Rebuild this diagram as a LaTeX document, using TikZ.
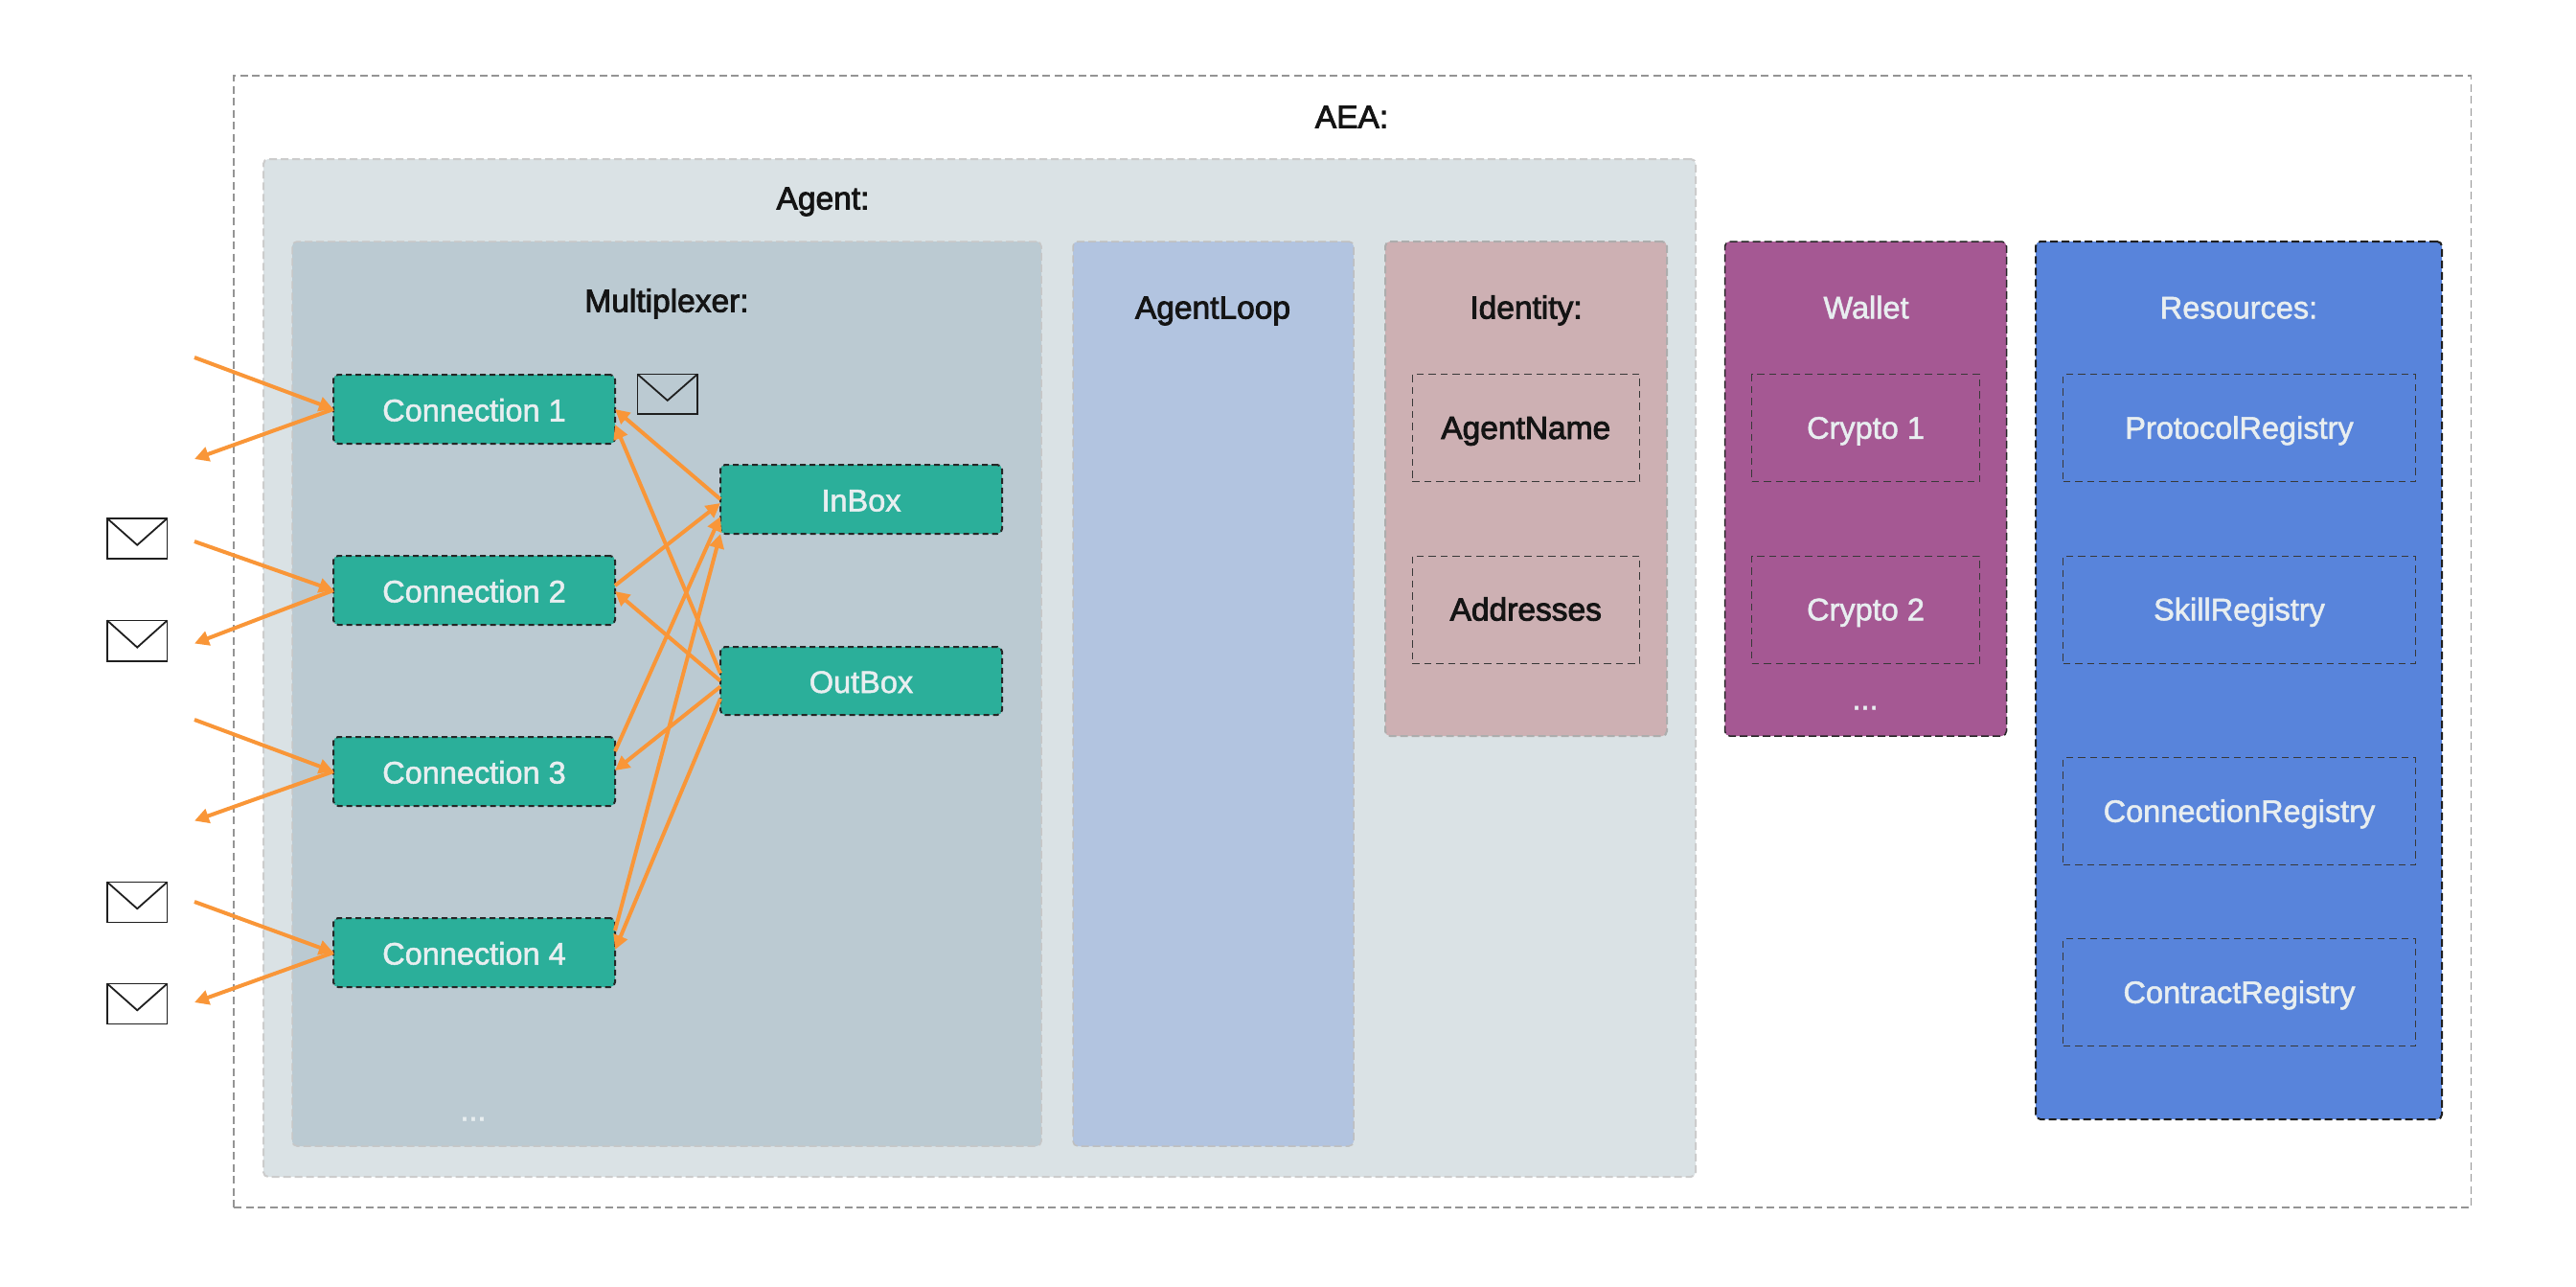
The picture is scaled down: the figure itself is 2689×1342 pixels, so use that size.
\documentclass[tikz,border=0pt]{standalone}
\usepackage{fontspec}
\setmainfont{Liberation Sans}
\newfontfamily\semibf[FakeBold=2.6]{Liberation Sans}
\newfontfamily\medf[FakeBold=1.6]{Liberation Sans}
\usetikzlibrary{arrows.meta}
\definecolor{orangeL}{HTML}{F99638}
\definecolor{tealF}{HTML}{2BAF9A}
\definecolor{agentF}{HTML}{DAE2E5}
\definecolor{muxF}{HTML}{BBCAD2}
\definecolor{loopF}{HTML}{B2C4E0}
\definecolor{idF}{HTML}{CDB0B3}
\definecolor{walF}{HTML}{A55893}
\definecolor{resF}{HTML}{5884DB}
\definecolor{lightT}{HTML}{E8EEF0}
\definecolor{darkT}{HTML}{141414}
\tikzset{
 x=1pt,y=-1pt,
 boxbase/.style={rectangle,inner sep=0pt,outer sep=0pt,rounded corners=5pt},
 lighttxt/.style={text=lightT,font=\medf\fontsize{32.5}{36}\selectfont,text height=22.5pt,text depth=0pt},
 darktxt/.style={text=darkT,font=\semibf\fontsize{33.5}{36}\selectfont,text height=23pt,text depth=0pt},
 labeltxt/.style={inner sep=0pt,outer sep=0pt},
 outerbox/.style={boxbase,rounded corners=0pt,draw=black!42,line width=1.3pt,dash pattern=on 8pt off 4.5pt},
 agentbox/.style={boxbase,fill=agentF,draw=black!20,line width=2pt,dash pattern=on 8pt off 4pt},
 muxbox/.style={boxbase,fill=muxF,draw=black!22,line width=1.5pt,dash pattern=on 8pt off 4pt},
 loopbox/.style={boxbase,fill=loopF,draw=black!25,line width=1.5pt,dash pattern=on 8pt off 4pt},
 idbox/.style={boxbase,fill=idF,draw=black!32,line width=2pt,dash pattern=on 8pt off 4pt},
 walbox/.style={boxbase,fill=walF,draw=black!85,line width=1.5pt,dash pattern=on 8pt off 4pt},
 resbox/.style={boxbase,fill=resF,draw=black!88,line width=2pt,dash pattern=on 8pt off 4pt},
 tealbox/.style={boxbase,fill=tealF,draw=black!85,line width=2pt,dash pattern=on 6pt off 4pt,lighttxt,text height=25pt},
 innerbox/.style={boxbase,rounded corners=0pt,draw=black!78,line width=1pt,dash pattern=on 7.5pt off 5pt},
 flow/.style={draw=orangeL,line width=4pt,-{Triangle[length=15pt,width=15pt]}},
 envbox/.style={draw=black!88,fill=none,line width=1.8pt,line join=miter},
}
% \bx{style}{name}{x1}{y1}{x2}{y2}{text}
\newcommand\bx[7]{%
 \pgfmathsetmacro\bxcx{(#3+#5)/2}\pgfmathsetmacro\bxcy{(#4+#6)/2}%
 \pgfmathsetmacro\bxw{#5-#3}\pgfmathsetmacro\bxh{#6-#4}%
 \node[#1,minimum width=\bxw pt,minimum height=\bxh pt] (#2) at (\bxcx,\bxcy) {#7};}
% \env{name}{x1}{y1}{x2}{y2}
\newcommand\env[5]{%
 \pgfmathsetmacro\bxcx{(#2+#4)/2}\pgfmathsetmacro\bxcy{#3+(#5-#3)*0.66}%
 \pgfmathsetmacro\bxw{#4-#2}\pgfmathsetmacro\bxh{#5-#3}%
 \node[envbox,rectangle,inner sep=0pt,outer sep=0pt,minimum width=\bxw pt,minimum height=\bxh pt] (#1) at ({(#2+#4)/2},{(#3+#5)/2}) {};
 \draw[envbox] (#1.north west) -- (\bxcx,\bxcy) -- (#1.north east);}
\begin{document}
\begin{tikzpicture}
\useasboundingbox (0,0) rectangle (2689,1342);
\fill[white] (0,0) rectangle (2689,1342);
\bx{outerbox}{aea}{244}{79}{2579.5}{1260}{}
\bx{agentbox}{agent}{275}{166}{1770}{1228}{}
\bx{muxbox}{mux}{305}{252}{1087}{1196}{}
\bx{loopbox}{loop}{1120}{252}{1413}{1196}{}
\bx{idbox}{ident}{1446}{252}{1740}{768}{}
\bx{walbox}{wal}{1800.5}{252}{2094.5}{768}{}
\bx{resbox}{res}{2125}{252}{2549}{1168}{}

\node[labeltxt,darktxt] (laea) at (1411,122) {AEA:};
\node[labeltxt,darktxt] (lagent) at (859,207) {Agent:};
\node[labeltxt,darktxt] (lmux) at (696,314) {Multiplexer:};
\node[labeltxt,darktxt] (lloop) at (1266,321) {AgentLoop};
\node[labeltxt,darktxt] (lid) at (1593,321) {Identity:};
\node[labeltxt,lighttxt] (lwal) at (1948,321) {Wallet};
\node[labeltxt,lighttxt] (lres) at (2337,321) {Resources:};
\node[labeltxt,lighttxt] (dots1) at (494,1158) {...};
\node[labeltxt,lighttxt] (dots2) at (1947,729) {...};

\bx{innerbox,darktxt}{aname}{1474}{390.5}{1711.5}{502.5}{AgentName}
\bx{innerbox,darktxt}{addr}{1474}{580}{1711.5}{692}{Addresses}
\bx{innerbox,lighttxt}{cr1}{1828.5}{390.5}{2066.5}{502.5}{Crypto 1}
\bx{innerbox,lighttxt}{cr2}{1828.5}{580}{2066.5}{692}{Crypto 2}
\bx{innerbox,lighttxt}{preg}{2153.5}{390.5}{2521.5}{502.5}{ProtocolRegistry}
\bx{innerbox,lighttxt}{sreg}{2153.5}{580}{2521.5}{692}{SkillRegistry}
\bx{innerbox,lighttxt}{creg}{2153.5}{790.5}{2521.5}{902.5}{ConnectionRegistry}
\bx{innerbox,lighttxt}{kreg}{2153.5}{979.5}{2521.5}{1091.5}{ContractRegistry}

\bx{tealbox}{c1}{348}{391}{642}{463}{Connection 1}
\bx{tealbox}{c2}{348}{580}{642}{652}{Connection 2}
\bx{tealbox}{c3}{348}{769}{642}{841}{Connection 3}
\bx{tealbox}{c4}{348}{958}{642}{1030}{Connection 4}
\bx{tealbox}{inbox}{752}{485}{1046}{557}{InBox}
\bx{tealbox}{outbox}{752}{675}{1046}{746}{OutBox}

\env{e0}{665.5}{390.5}{728}{432}
\env{e1}{112}{541}{174.5}{583}
\env{e2}{112}{647.5}{174.5}{690}
\env{e3}{112}{920.5}{174.5}{962.5}
\env{e4}{112}{1026.5}{174.5}{1068.5}

\coordinate (s1) at (203,373);
\coordinate (t1) at (203,479);
\coordinate (s2) at (203,565);
\coordinate (t2) at (203,671.5);
\coordinate (s3) at (203,751);
\coordinate (t3) at (203,856.5);
\coordinate (s4) at (203,941);
\coordinate (t4) at (203,1046);
\foreach \i in {1,2,3,4}{
 \draw[flow] (s\i) -- (c\i.west);
 \draw[flow] (c\i.west) -- (t\i);
}
\draw[flow] (inbox.west) -- (c1.east);
\draw[flow] ([yshift=8pt]outbox.west) -- ([yshift=-16pt]c1.east);
\draw[flow] ([yshift=5pt]c2.east) -- ([yshift=-4pt]inbox.west);
\draw[flow] (outbox.west) -- ([yshift=-1pt]c2.east);
\draw[flow] ([yshift=21pt]c3.east) -- ([yshift=-18pt]inbox.west);
\draw[flow] ([yshift=-6pt]outbox.west) -- ([yshift=1pt]c3.east);
\draw[flow] ([yshift=23pt]c4.east) -- ([yshift=-36pt]inbox.west);
\draw[flow] ([yshift=-18.5pt]outbox.west) -- ([yshift=3pt]c4.east);
\end{tikzpicture}
\end{document}
